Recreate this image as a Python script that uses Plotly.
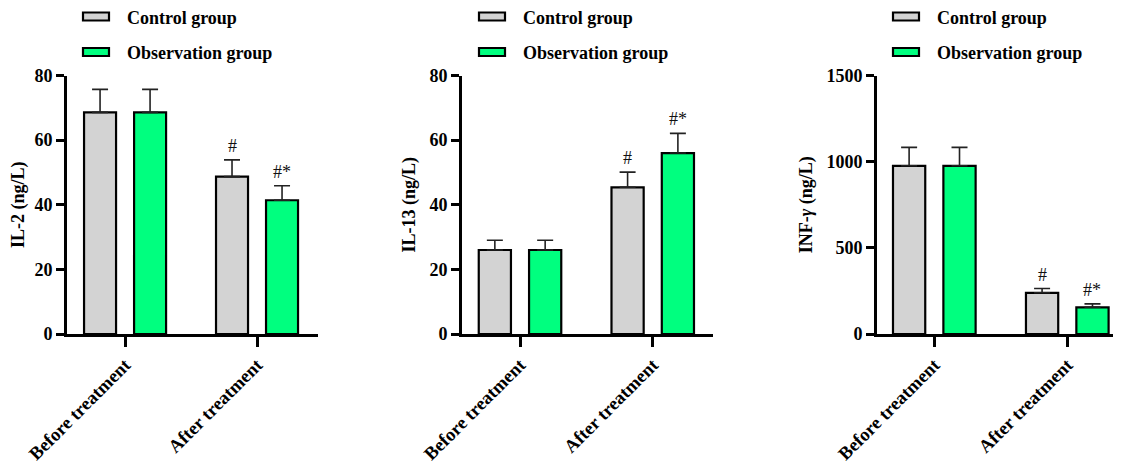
import plotly.graph_objects as go

categories = ["Before treatment", "After treatment"]
groups = ["Control group", "Observation group"]
colors = ["#D3D3D3", "#00FF7F"]

il2_control = [68.6, 48.7]
il2_control_err = [7.1, 5.2]
il2_obs = [68.6, 41.4]
il2_obs_err = [7.1, 4.5]

il13_control = [26.0, 45.4]
il13_control_err = [3.0, 4.7]
il13_obs = [26.0, 56.0]
il13_obs_err = [3.0, 6.1]

inf_control = [976, 239]
inf_control_err = [107, 25]
inf_obs = [976, 155]
inf_obs_err = [107, 20]

marks_control = ["", "#"]
marks_obs = ["", "#*"]

# page has an 8px body margin; work in screen pixels and convert
M = 8
W, H = 1121 - M, 464 - M


def px(x):
    return (x - M) / W


def py(y):
    return (H - (y - M)) / H


panels = [
    dict(title="IL-2 (ng/L)", ymax=80, dtick=20,
         data=[(il2_control, il2_control_err), (il2_obs, il2_obs_err)],
         xdom=[px(67), px(318)], xr=[-0.44, 1.462], leg=83),
    dict(title="IL-13 (ng/L)", ymax=80, dtick=20,
         data=[(il13_control, il13_control_err), (il13_obs, il13_obs_err)],
         xdom=[px(462), px(713)], xr=[-0.437, 1.454], leg=479),
    dict(title="INF-<i>γ</i> (ng/L)", ymax=1500, dtick=500,
         data=[(inf_control, inf_control_err), (inf_obs, inf_obs_err)],
         xdom=[px(877), 1.0], xr=[-0.431, 1.404], leg=893),
]

BARGAP = 0.242
BARGROUPGAP = 0.36
OFFSET = (1 - BARGAP) / 4
FONT = "Liberation Serif"
ydom = [py(334), py(75.5)]

fig = go.Figure()
shapes = []
annotations = []

for i, p in enumerate(panels):
    n = "" if i == 0 else str(i + 1)
    xa, ya = "x" + n, "y" + n
    for g, (vals, errs) in enumerate(p["data"]):
        fig.add_trace(go.Bar(
            x=categories, y=vals, name=groups[g], xaxis=xa, yaxis=ya,
            marker=dict(color=colors[g], line=dict(color="black", width=2.2)),
            error_y=dict(type="data", array=errs, arrayminus=[0] * len(errs),
                         symmetric=False, color="#222222", thickness=1.6, width=8),
            showlegend=False,
        ))
    for g, marks in enumerate([marks_control, marks_obs]):
        vals, errs = p["data"][g]
        for c, m in enumerate(marks):
            if m:
                annotations.append(dict(
                    x=c + (-OFFSET if g == 0 else OFFSET), y=vals[c] + errs[c],
                    xref=xa, yref=ya, text=m, showarrow=False,
                    yanchor="bottom", yshift=2,
                    font=dict(family=FONT, size=18, color="#111111")))
    axis_common = dict(showline=True, linecolor="black", linewidth=2.6,
                       ticks="outside", tickcolor="black", tickwidth=2.6,
                       showgrid=False, zeroline=False)
    fig.update_layout(**{
        ("xaxis" + n): dict(domain=p["xdom"], anchor=ya, range=p["xr"],
                            type="category", tickangle=-45, ticklen=10,
                            tickfont=dict(family=FONT, size=18.5, color="black",
                                          weight="bold"),
                            **axis_common),
        ("yaxis" + n): dict(domain=ydom, anchor=xa, range=[0, p["ymax"]],
                            dtick=p["dtick"], ticklen=8,
                            tickfont=dict(family=FONT, size=18, color="black",
                                          weight="bold"),
                            title=dict(text="<b>" + p["title"] + "</b>", standoff=10,
                                       font=dict(family=FONT, size=18, color="black")),
                            **axis_common),
    })
    lx = p["leg"]
    for g in range(2):
        cy = 16.5 + g * 35.5
        shapes.append(dict(type="rect", xref="paper", yref="paper",
                           x0=px(lx), x1=px(lx + 26),
                           y0=py(cy + 4), y1=py(cy - 4),
                           fillcolor=colors[g], line=dict(color="black", width=2.2)))
        annotations.append(dict(x=px(lx + 42), y=py(cy + 1.5), xref="paper", yref="paper",
                                text="<b>" + groups[g] + "</b>", showarrow=False,
                                xanchor="left", yanchor="middle",
                                font=dict(family=FONT, size=18, color="black")))

fig.update_layout(
    width=W, height=H, barmode="group", bargap=BARGAP, bargroupgap=BARGROUPGAP,
    margin=dict(l=0, r=0, t=0, b=0, autoexpand=False),
    plot_bgcolor="white", paper_bgcolor="white",
    shapes=shapes, annotations=annotations, showlegend=False,
)

fig.write_html("out.html")
